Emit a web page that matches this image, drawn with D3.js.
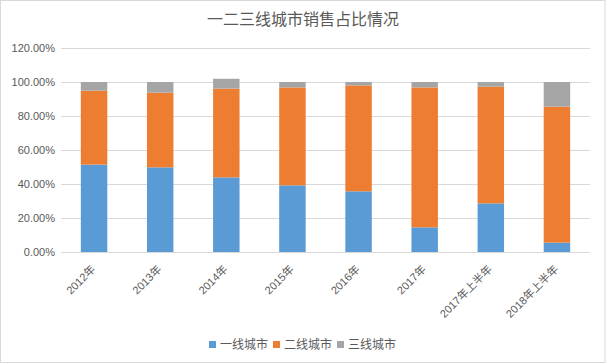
<!DOCTYPE html>
<html>
<head>
<meta charset="utf-8">
<script src="https://cdn.jsdelivr.net/npm/d3@7"></script>
<style>
  body { margin: 0; background: #fff; }
  svg { display: block; }
  text { font-family: "Liberation Sans", "Noto Sans CJK SC", sans-serif; fill: #595959; }
</style>
</head>
<body>
<div id="chart"></div>
<script>
// years / periods on the x axis
const categories = ["2012年", "2013年", "2014年", "2015年", "2016年", "2017年", "2017年上半年", "2018年上半年"];
// share of sales by city tier (fractions)
const tier1 = [0.514, 0.498, 0.439, 0.392, 0.357, 0.145, 0.286, 0.055];
const tier2 = [0.435, 0.439, 0.522, 0.576, 0.623, 0.823, 0.686, 0.800];
const tier3 = [0.051, 0.063, 0.058, 0.032, 0.020, 0.032, 0.028, 0.145];
const seriesNames = ["一线城市", "二线城市", "三线城市"];
const seriesColors = ["#5B9BD5", "#ED7D31", "#A5A5A5"];
const yTicks = [0, 0.2, 0.4, 0.6, 0.8, 1.0, 1.2];
const title = "一二三线城市销售占比情况";

const totalWidth = 606, totalHeight = 364;
const margins = { left: 61, right: 16, top: 48, bottom: 112 };

const svg = d3.select("#chart").append("svg")
    .attr("width", totalWidth)
    .attr("height", totalHeight);

// outer chart border
svg.append("rect")
    .attr("x", 0.5).attr("y", 0.5)
    .attr("width", totalWidth - 1.5).attr("height", totalHeight - 2)
    .attr("fill", "#fff")
    .attr("stroke", "#D9D9D9");

svg.append("text")
    .attr("x", 303).attr("y", 25)
    .attr("text-anchor", "middle")
    .attr("font-size", "16px")
    .style("font-family", "'Noto Sans CJK SC', sans-serif")
    .text(title);

const x = d3.scaleBand()
    .domain(categories)
    .range([margins.left, totalWidth - margins.right])
    .paddingInner(0.6)
    .paddingOuter(0.3);

const y = d3.scaleLinear()
    .domain([0, 1.2])
    .range([252, margins.top]);

// gridlines + y labels
const yAxis = d3.axisLeft(y)
    .tickValues(yTicks)
    .tickFormat(d3.format(".2%"))
    .tickSize(-(totalWidth - margins.right - margins.left))
    .tickPadding(6);
const yAxisG = svg.append("g")
    .attr("transform", `translate(${margins.left},0)`)
    .call(yAxis);
yAxisG.select(".domain").remove();
yAxisG.selectAll(".tick line").attr("stroke", "#D9D9D9");
yAxisG.selectAll(".tick text")
    .attr("font-size", "11px")
    .style("font-family", "'Liberation Sans', sans-serif")
    .attr("fill", "#595959");

// stacked bars
const rows = categories.map((c, i) => ({ cat: c, a: tier1[i], b: tier2[i], c3: tier3[i] }));
const stack = d3.stack().keys(["a", "b", "c3"]);
const layers = stack(rows);

svg.append("g").selectAll("g")
    .data(layers)
    .join("g")
    .attr("fill", (d, i) => seriesColors[i])
    .selectAll("rect")
    .data(d => d)
    .join("rect")
    .attr("x", d => x(d.data.cat))
    .attr("width", x.bandwidth())
    .attr("y", d => y(d[1]))
    .attr("height", d => y(d[0]) - y(d[1]));

// x labels, rotated
svg.append("g").selectAll("text")
    .data(categories)
    .join("text")
    .attr("transform", d => `translate(${x(d) + x.bandwidth() / 2 + 2},${270}) rotate(-45)`)
    .attr("text-anchor", "end")
    .attr("font-size", "11px")
    .style("font-family", "'Liberation Sans', 'Noto Sans CJK SC', sans-serif")
    .text(d => d);

// legend
const legendX = [209, 273, 337];
const legend = svg.append("g").selectAll("g")
    .data(seriesNames)
    .join("g")
    .attr("transform", (d, i) => `translate(${legendX[i]},341)`);
legend.append("rect")
    .attr("width", 7).attr("height", 7)
    .attr("fill", (d, i) => seriesColors[i]);
legend.append("text")
    .attr("x", 11).attr("y", 8)
    .attr("font-size", "12px")
    .style("font-family", "'Noto Sans CJK SC', sans-serif")
    .text(d => d);
</script>
</body>
</html>
